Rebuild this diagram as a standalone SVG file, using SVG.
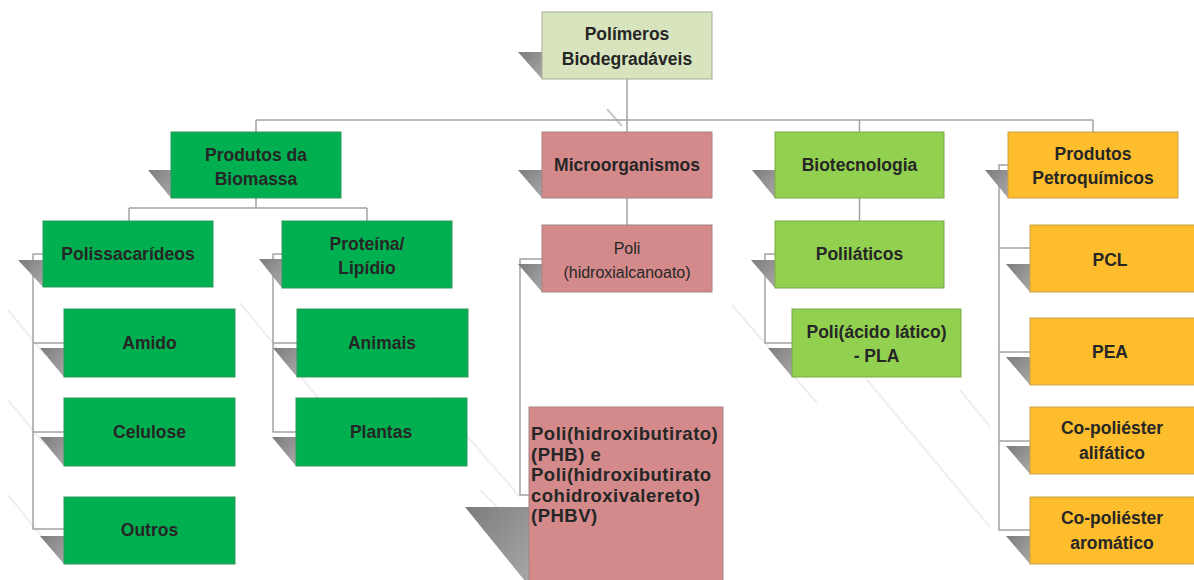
<svg xmlns="http://www.w3.org/2000/svg" width="1194" height="580" viewBox="0 0 1194 580">
<defs>
<linearGradient id="shg" x1="0" y1="0" x2="1" y2="1">
<stop offset="0" stop-color="#7c7c7c"/>
<stop offset="1" stop-color="#a8a8a8"/>
</linearGradient>
</defs>
<style>
.t{font-family:"Liberation Sans",Arial,sans-serif;font-weight:bold;font-size:17.5px;fill:#262626;text-anchor:middle;dominant-baseline:central}
.n{font-weight:normal;font-size:16px}
.l{text-anchor:start;font-size:18.5px;letter-spacing:0.5px}
.sh{fill:url(#shg)}
.c{fill:none;stroke:#a3a3a3;stroke-width:1.5}
.f{fill:none;stroke:#efefef;stroke-width:2}
.root{fill:#d7e4bd;stroke:#a4ad92;stroke-width:1}
.g{fill:#00b050;stroke:#2e9a55;stroke-width:1}
.p{fill:#d48a8b;stroke:#a98283;stroke-width:1}
.lg{fill:#92d050;stroke:#7aa94c;stroke-width:1}
.o{fill:#fdbd2c;stroke:#c9a24a;stroke-width:1}
</style>
<rect width="1194" height="580" fill="#ffffff"/>
<g id="bg-reflections">
<line class="f" x1="8" y1="310" x2="45" y2="355"/>
<line class="f" x1="8" y1="400" x2="45" y2="445"/>
<line class="f" x1="8" y1="495" x2="45" y2="540"/>
<line class="f" x1="240" y1="303" x2="320" y2="400"/>
<line class="f" x1="433" y1="397" x2="520" y2="497"/>
<line class="f" x1="480" y1="490" x2="513" y2="523"/>
<line class="f" x1="732" y1="305" x2="817" y2="403"/>
<line class="f" x1="867" y1="380" x2="990" y2="527"/>
<line class="f" x1="960" y1="390" x2="990" y2="427"/>
<line x1="607" y1="109" x2="622" y2="126" stroke="#c8c8c8" stroke-width="2"/>
</g>
<g id="connectors">
<path class="c" d="M627,79 V132"/>
<path class="c" d="M256,120 H1093 M256,120 V132 M859.5,120 V132 M1093,120 V132"/>
<path class="c" d="M256,198 V208 M129,208 H367 M129,208 V221 M367,208 V221"/>
<path class="c" d="M43,254 H33 V529 H64 M33,343 H64 M33,432 H64"/>
<path class="c" d="M282,254 H273 V432 H296 M273,343 H297"/>
<path class="c" d="M627,198 V225"/>
<path class="c" d="M542,259 H520 V495 H529"/>
<path class="c" d="M859.5,198 V221"/>
<path class="c" d="M775,254 H765 V343 H792"/>
<path class="c" d="M1008,165 H999 V530 H1030 M999,248 H1030 M999,352 H1030 M999,441 H1030"/>
</g>
<g id="root">
<polygon class="sh" points="518,52 542,52 542,79"/>
<rect class="root" x="542" y="12" width="170" height="67"/>
<text class="t" x="627" y="34">Polímeros</text>
<text class="t" x="627" y="59">Biodegradáveis</text>
</g>
<g id="biomassa">
<polygon class="sh" points="148,170 171,170 171,198"/>
<rect class="g" x="171" y="132" width="170" height="66"/>
<text class="t" x="256" y="155">Produtos da</text>
<text class="t" x="256" y="179">Biomassa</text>
</g>
<g id="microorganismos">
<polygon class="sh" points="518,170 542,170 542,198"/>
<rect class="p" x="542" y="132" width="170" height="66"/>
<text class="t" x="627" y="165">Microorganismos</text>
</g>
<g id="biotecnologia">
<polygon class="sh" points="752,170 775,170 775,198"/>
<rect class="lg" x="775" y="132" width="169" height="66"/>
<text class="t" x="859.5" y="165">Biotecnologia</text>
</g>
<g id="petroquimicos">
<polygon class="sh" points="985,170 1008,170 1008,198"/>
<rect class="o" x="1008" y="132" width="170" height="66"/>
<text class="t" x="1093" y="154">Produtos</text>
<text class="t" x="1093" y="178">Petroquímicos</text>
</g>
<g id="polissacarideos">
<polygon class="sh" points="18,260 43,260 43,287"/>
<rect class="g" x="43" y="221" width="170" height="66"/>
<text class="t" x="128" y="254">Polissacarídeos</text>
</g>
<g id="proteina">
<polygon class="sh" points="259,259 282,259 282,288"/>
<rect class="g" x="282" y="221" width="170" height="67"/>
<text class="t" x="367" y="244">Proteína/</text>
<text class="t" x="367" y="268">Lipídio</text>
</g>
<g id="amido">
<polygon class="sh" points="40,348 64,348 64,377"/>
<rect class="g" x="64" y="309" width="171" height="68"/>
<text class="t" x="149.5" y="343">Amido</text>
</g>
<g id="celulose">
<polygon class="sh" points="40,437 64,437 64,466"/>
<rect class="g" x="64" y="398" width="171" height="68"/>
<text class="t" x="149.5" y="432">Celulose</text>
</g>
<g id="outros">
<polygon class="sh" points="40,536 64,536 64,564"/>
<rect class="g" x="64" y="497" width="171" height="67"/>
<text class="t" x="149.5" y="530">Outros</text>
</g>
<g id="animais">
<polygon class="sh" points="273,348 297,348 297,377"/>
<rect class="g" x="297" y="309" width="171" height="68"/>
<text class="t" x="382" y="343">Animais</text>
</g>
<g id="plantas">
<polygon class="sh" points="272,437 296,437 296,466"/>
<rect class="g" x="296" y="398" width="171" height="68"/>
<text class="t" x="381" y="432">Plantas</text>
</g>
<g id="pha">
<polygon class="sh" points="518,264 542,264 542,292"/>
<rect class="p" x="542" y="225" width="170" height="67"/>
<text class="t n" x="627" y="248">Poli</text>
<text class="t n" x="627" y="272">(hidroxialcanoato)</text>
</g>
<g id="phb">
<polygon class="sh" points="465,507 529,507 529,586"/>
<rect class="p" x="529" y="407" width="194" height="185"/>
<text class="t l" x="531" y="433">Poli(hidroxibutirato)</text>
<text class="t l" x="531" y="454">(PHB) e</text>
<text class="t l" x="531" y="474">Poli(hidroxibutirato</text>
<text class="t l" x="531" y="495">cohidroxivalereto)</text>
<text class="t l" x="531" y="515">(PHBV)</text>
</g>
<g id="polilaticos">
<polygon class="sh" points="751,260 775,260 775,288"/>
<rect class="lg" x="775" y="221" width="169" height="67"/>
<text class="t" x="859.5" y="254">Poliláticos</text>
</g>
<g id="pla">
<polygon class="sh" points="768,348 792,348 792,377"/>
<rect class="lg" x="792" y="309" width="169" height="68"/>
<text class="t" x="876.5" y="332">Poli(ácido lático)</text>
<text class="t" x="876.5" y="356">- PLA</text>
</g>
<g id="pcl">
<polygon class="sh" points="1006,264 1030,264 1030,292"/>
<rect class="o" x="1030" y="225" width="170" height="67"/>
<text class="t" x="1110" y="260">PCL</text>
</g>
<g id="pea">
<polygon class="sh" points="1006,357 1030,357 1030,385"/>
<rect class="o" x="1030" y="318" width="170" height="67"/>
<text class="t" x="1110" y="352">PEA</text>
</g>
<g id="alifatico">
<polygon class="sh" points="1006,446 1030,446 1030,474"/>
<rect class="o" x="1030" y="407" width="170" height="67"/>
<text class="t" x="1112" y="428">Co-poliéster</text>
<text class="t" x="1112" y="453">alifático</text>
</g>
<g id="aromatico">
<polygon class="sh" points="1006,536 1030,536 1030,564"/>
<rect class="o" x="1030" y="497" width="170" height="67"/>
<text class="t" x="1112" y="518">Co-poliéster</text>
<text class="t" x="1112" y="543">aromático</text>
</g>
</svg>
